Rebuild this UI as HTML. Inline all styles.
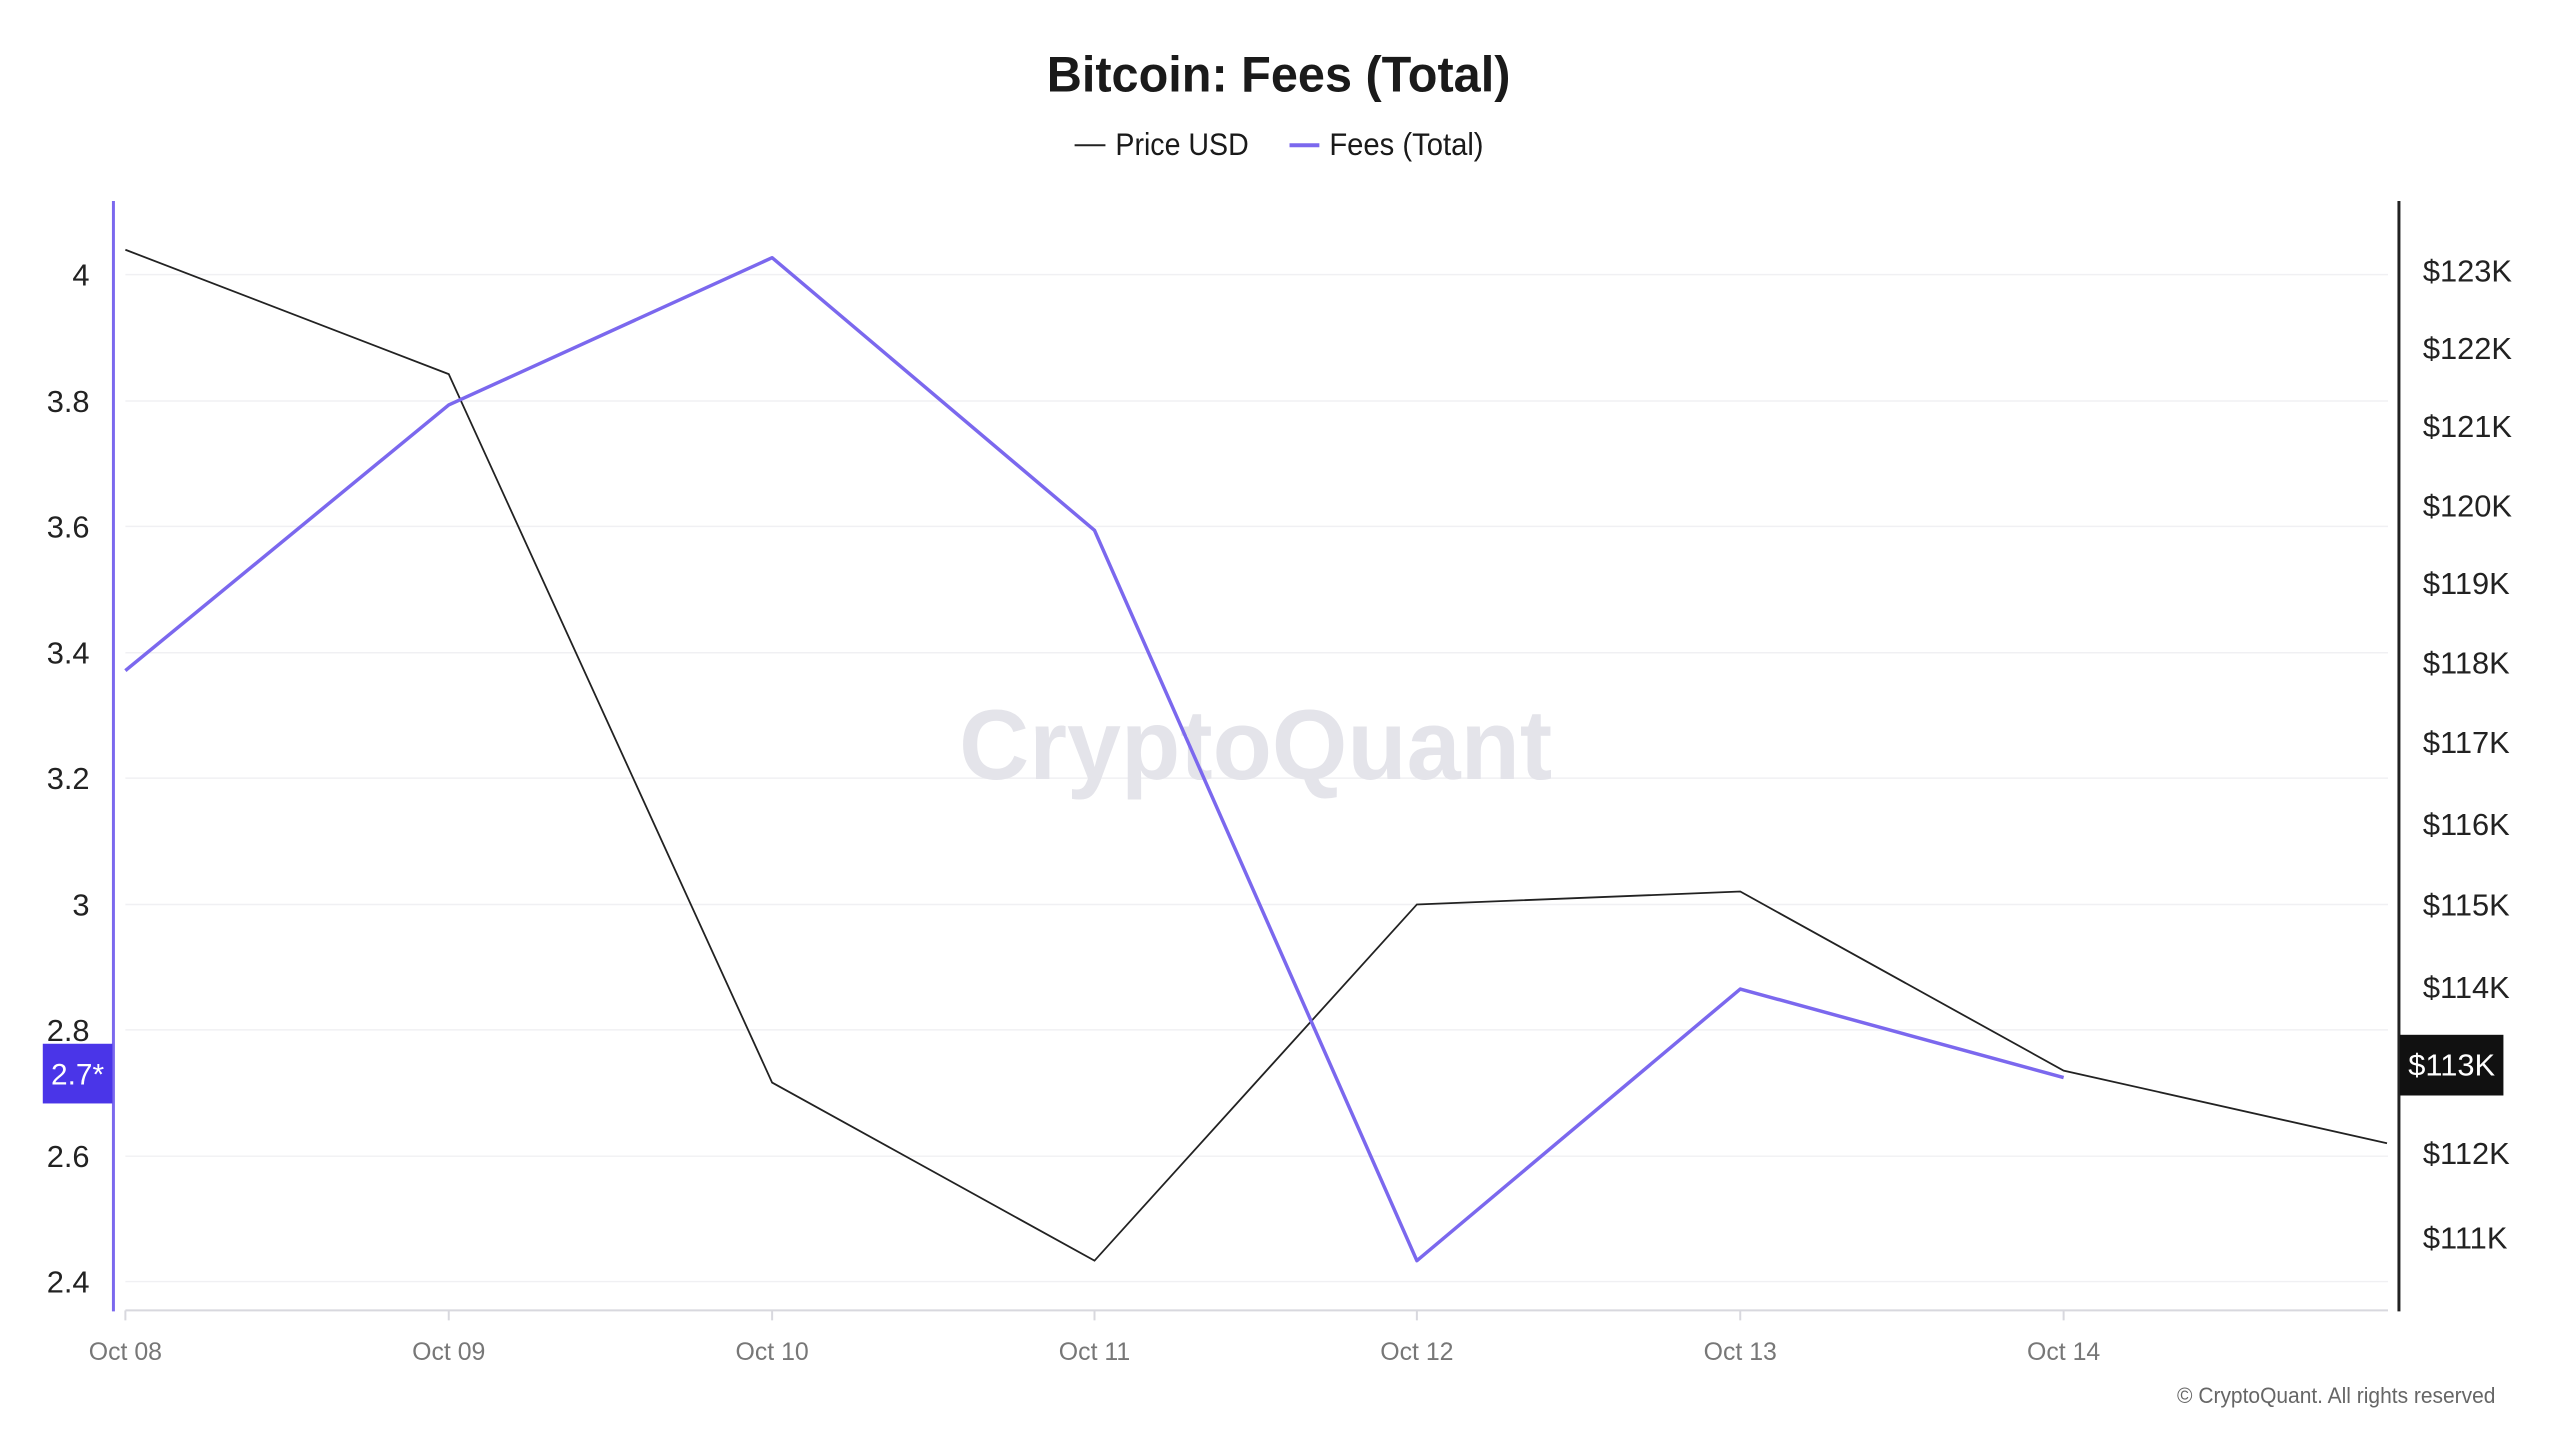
<!DOCTYPE html>
<html><head><meta charset="utf-8"><style>
html,body{margin:0;padding:0;background:#fff;}
svg{display:block;}
</style></head><body>
<svg width="2560" height="1440" viewBox="0 0 2560 1440" xmlns="http://www.w3.org/2000/svg" font-family="Liberation Sans, DejaVu Sans, sans-serif">
<rect width="2560" height="1440" fill="#fff"/>
<g transform="scale(0.995)">
<text x="1285" y="92" text-anchor="middle" font-size="50" font-weight="bold" fill="#1a1a1a" textLength="466" lengthAdjust="spacingAndGlyphs">Bitcoin: Fees (Total)</text>
<line x1="1080" y1="146" x2="1111" y2="146" stroke="#222" stroke-width="2"/>
<text x="1121" y="156" font-size="32" fill="#1a1a1a" textLength="134" lengthAdjust="spacingAndGlyphs">Price USD</text>
<line x1="1296" y1="146" x2="1326" y2="146" stroke="#7b68ee" stroke-width="4"/>
<text x="1336" y="156" font-size="32" fill="#1a1a1a" textLength="155" lengthAdjust="spacingAndGlyphs">Fees (Total)</text>
<g stroke="#f0f0f3" stroke-width="1.5">
<line x1="126" y1="276" x2="2400" y2="276"/><line x1="126" y1="403" x2="2400" y2="403"/>
<line x1="126" y1="529" x2="2400" y2="529"/><line x1="126" y1="656" x2="2400" y2="656"/>
<line x1="126" y1="782" x2="2400" y2="782"/><line x1="126" y1="909" x2="2400" y2="909"/>
<line x1="126" y1="1035" x2="2400" y2="1035"/><line x1="126" y1="1162" x2="2400" y2="1162"/>
<line x1="126" y1="1288" x2="2400" y2="1288"/>
</g>
<text x="1262" y="783" text-anchor="middle" font-size="100" font-weight="bold" fill="#e4e4ea" textLength="596" lengthAdjust="spacingAndGlyphs">CryptoQuant</text>
<line x1="126" y1="1317" x2="2400" y2="1317" stroke="#d8d8de" stroke-width="2"/>
<g stroke="#d8d8de" stroke-width="2">
<line x1="126" y1="1317" x2="126" y2="1327"/><line x1="451" y1="1317" x2="451" y2="1327"/>
<line x1="776" y1="1317" x2="776" y2="1327"/><line x1="1100" y1="1317" x2="1100" y2="1327"/>
<line x1="1424" y1="1317" x2="1424" y2="1327"/><line x1="1749" y1="1317" x2="1749" y2="1327"/>
<line x1="2074" y1="1317" x2="2074" y2="1327"/>
</g>
<g font-size="25" fill="#777" text-anchor="middle">
<text x="126" y="1367">Oct 08</text><text x="451" y="1367">Oct 09</text><text x="776" y="1367">Oct 10</text>
<text x="1100" y="1367">Oct 11</text><text x="1424" y="1367">Oct 12</text><text x="1749" y="1367">Oct 13</text>
<text x="2074" y="1367">Oct 14</text>
</g>
<line x1="114" y1="202" x2="114" y2="1318" stroke="#7b68ee" stroke-width="3"/>
<line x1="2411" y1="202" x2="2411" y2="1318" stroke="#222" stroke-width="3"/>
<g font-size="31" fill="#222" text-anchor="end">
<text x="90" y="287">4</text><text x="90" y="414">3.8</text><text x="90" y="540">3.6</text>
<text x="90" y="667">3.4</text><text x="90" y="793">3.2</text><text x="90" y="920">3</text>
<text x="90" y="1046">2.8</text><text x="90" y="1173">2.6</text><text x="90" y="1299">2.4</text>
</g>
<g font-size="31" fill="#222">
<text x="2435" y="283">$123K</text><text x="2435" y="361">$122K</text><text x="2435" y="439">$121K</text>
<text x="2435" y="519">$120K</text><text x="2435" y="597">$119K</text><text x="2435" y="677">$118K</text>
<text x="2435" y="757">$117K</text><text x="2435" y="839">$116K</text><text x="2435" y="920">$115K</text>
<text x="2435" y="1003">$114K</text><text x="2435" y="1170">$112K</text><text x="2435" y="1255">$111K</text>
</g>
<polyline fill="none" stroke="#222" stroke-width="1.8" points="126,251 451,376 776,1088 1100,1267 1424,909 1749,896 2074,1076 2399,1149"/>
<polyline fill="none" stroke="#7b68ee" stroke-width="3.5" stroke-linejoin="round" points="126,674 451,407 776,259 1100,533 1424,1267 1749,994 2074,1083"/>
<rect x="43" y="1049" width="70" height="60" fill="#4a35e8"/>
<text x="78" y="1090" text-anchor="middle" font-size="30" fill="#fff">2.7*</text>
<rect x="2412" y="1040" width="104" height="61" fill="#111"/>
<text x="2464" y="1081" text-anchor="middle" font-size="31" fill="#fff">$113K</text>
<text x="2508" y="1410" text-anchor="end" font-size="22" fill="#666" textLength="320" lengthAdjust="spacingAndGlyphs">© CryptoQuant. All rights reserved</text>
</g>
</svg>
</body></html>
